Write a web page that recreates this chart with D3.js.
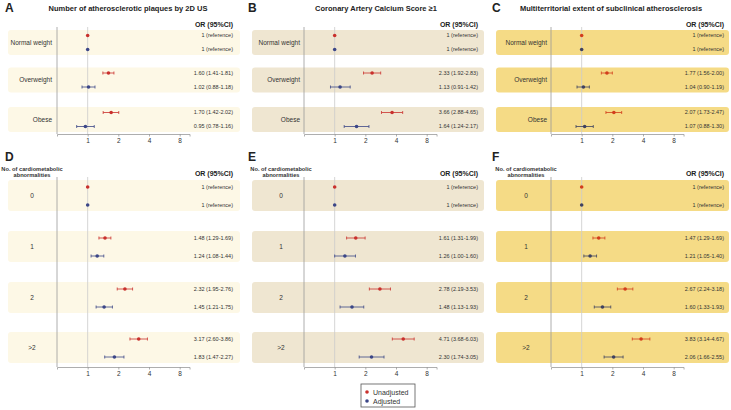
<!DOCTYPE html>
<meta charset="utf-8">
<style>
body { margin: 0; background: #fff; }
svg { font-family: "Liberation Sans", Arial, sans-serif; }
.tick text { fill: #333; font-size: 6.5px; }
.axis path, .axis line { stroke: #999; stroke-width: 0.8px; }
</style>
<body>
<svg width="731" height="410"></svg>
<script src="https://d3js.org/d3.v7.min.js"></script>
<script>
// ---- data ----
var weightGroups = ["Normal weight", "Overweight", "Obese"];
var cmGroups = ["0", "1", "2", ">2"];
var ticks = [1, 2, 4, 8];

// [OR, lower, upper]
var aUnadj = [[1, 1, 1], [1.60, 1.41, 1.81], [1.70, 1.42, 2.02]];
var aAdj   = [[1, 1, 1], [1.02, 0.88, 1.18], [0.95, 0.78, 1.16]];
var bUnadj = [[1, 1, 1], [2.33, 1.92, 2.83], [3.66, 2.88, 4.65]];
var bAdj   = [[1, 1, 1], [1.13, 0.91, 1.42], [1.64, 1.24, 2.17]];
var cUnadj = [[1, 1, 1], [1.77, 1.56, 2.00], [2.07, 1.73, 2.47]];
var cAdj   = [[1, 1, 1], [1.04, 0.90, 1.19], [1.07, 0.88, 1.30]];
var dUnadj = [[1, 1, 1], [1.48, 1.29, 1.69], [2.32, 1.95, 2.76], [3.17, 2.60, 3.86]];
var dAdj   = [[1, 1, 1], [1.24, 1.08, 1.44], [1.45, 1.21, 1.75], [1.83, 1.47, 2.27]];
var eUnadj = [[1, 1, 1], [1.61, 1.31, 1.99], [2.78, 2.19, 3.53], [4.71, 3.68, 6.03]];
var eAdj   = [[1, 1, 1], [1.26, 1.00, 1.60], [1.48, 1.13, 1.93], [2.30, 1.74, 3.05]];
var fUnadj = [[1, 1, 1], [1.47, 1.29, 1.69], [2.67, 2.24, 3.18], [3.83, 3.14, 4.67]];
var fAdj   = [[1, 1, 1], [1.21, 1.05, 1.40], [1.60, 1.33, 1.93], [2.06, 1.66, 2.55]];

var titles = ["Number of atherosclerotic plaques by 2D US",
              "Coronary Artery Calcium Score \u22651",
              "Multiterritorial extent of subclinical atherosclerosis"];
var letters = ["A", "B", "C", "D", "E", "F"];

// ---- layout ----
var svg = d3.select("svg");
var cols = [
  {x0: 57,  bandL: 8,   bandR: 240, orR: 233, labR: 52,  labC: 32,  titleC: 128, band: "#fdf8e6", red: "#c9302c", blue: "#3b4687"},
  {x0: 304, bandL: 252, bandR: 484, orR: 478, labR: 300, labC: 281, titleC: 376, band: "#efe6d1", red: "#c9302c", blue: "#3b4687"},
  {x0: 551, bandL: 496, bandR: 729, orR: 724, labR: 547, labC: 526, titleC: 611, band: "#f5db86", red: "#d23e1c", blue: "#3e4160"}
];
var rows = [
  {groups: weightGroups, bandTop: [30, 67.5, 107], bandH: 25, dR: 5.5, dB: 19.5, top: 27, axisY: 134, orY: 24, right: true},
  {groups: cmGroups, bandTop: [180, 231, 282, 332], bandH: 31, dR: 7, dB: 25, top: 177, axisY: 367, orY: 173, right: false}
];
var panels = [
  [aUnadj, aAdj], [bUnadj, bAdj], [cUnadj, cAdj],
  [dUnadj, dAdj], [eUnadj, eAdj], [fUnadj, fAdj]
];

function fmt(d) {
  if (d[0] === 1 && d[1] === 1) return "1 (reference)";
  return d[0].toFixed(2) + " (" + d[1].toFixed(2) + "-" + d[2].toFixed(2) + ")";
}

panels.forEach(function(p, i) {
  var c = cols[i % 3], r = rows[Math.floor(i / 3)];
  var g = svg.append("g");
  var x = d3.scaleLog().base(2).domain([0.5, 10]).range([c.x0, c.x0 + 30.67 * Math.log2(20)]);

  // panel letter
  g.append("text").attr("x", (i % 3 === 0 ? 5 : c.bandL - 4)).attr("y", r.right ? 12 : 161)
    .style("font-size", "12px").style("font-weight", "bold").attr("fill", "#222").text(letters[i]);

  if (r.right) {
    g.append("text").attr("x", c.titleC).attr("y", 10.5).attr("text-anchor", "middle")
      .style("font-size", "7.5px").style("font-weight", "bold").attr("fill", "#222").text(titles[i]);
  } else {
    g.append("text").attr("x", c.labC).attr("y", 171).attr("text-anchor", "middle")
      .style("font-size", "5.7px").style("font-weight", "bold").attr("fill", "#333").text("No. of cardiometabolic");
    g.append("text").attr("x", c.labC).attr("y", 177).attr("text-anchor", "middle")
      .style("font-size", "5.7px").style("font-weight", "bold").attr("fill", "#333").text("abnormalities");
  }

  g.append("text").attr("x", c.orR).attr("y", r.orY + 2.5).attr("text-anchor", "end")
    .style("font-size", "7px").style("font-weight", "bold").attr("fill", "#222").text("OR (95%CI)");

  // bands
  g.selectAll(".band").data(r.groups).enter().append("rect")
    .attr("x", c.bandL).attr("width", c.bandR - c.bandL)
    .attr("y", function(d, k) { return r.bandTop[k]; })
    .attr("height", r.bandH).attr("rx", 3).attr("fill", c.band);

  // group labels
  g.selectAll(".glab").data(r.groups).enter().append("text")
    .attr("x", r.right ? c.labR : c.labC)
    .attr("y", function(d, k) { return r.bandTop[k] + r.bandH / 2 + 2.3; })
    .attr("text-anchor", r.right ? "end" : "middle")
    .style("font-size", "6.5px").attr("fill", "#333").text(function(d) { return d; });

  // axis lines
  g.append("line").attr("x1", c.x0).attr("x2", c.x0).attr("y1", r.top).attr("y2", r.axisY)
    .attr("stroke", "#999").attr("stroke-width", 0.8);
  g.append("line").attr("x1", x(1)).attr("x2", x(1)).attr("y1", r.top).attr("y2", r.axisY)
    .attr("stroke", "#ccc").attr("stroke-width", 0.8);

  g.append("g").attr("class", "axis").attr("transform", "translate(0," + r.axisY + ")")
    .call(d3.axisBottom(x).tickValues(ticks).tickFormat(d3.format("d")).tickSize(2.5).tickPadding(2));

  // estimates
  [[p[0], r.dR, c.red], [p[1], r.dB, c.blue]].forEach(function(s) {
    var sg = g.append("g");
    var yy = function(d, k) { return r.bandTop[k] + s[1]; };
    s[0].forEach(function(d, k) {
      if (d[1] === d[2]) return;
      sg.append("line").attr("x1", x(d[1])).attr("x2", x(d[2]))
        .attr("y1", yy(d, k)).attr("y2", yy(d, k))
        .attr("stroke", s[2]).attr("stroke-width", 0.8);
      [d[1], d[2]].forEach(function(v) {
        sg.append("line").attr("x1", x(v)).attr("x2", x(v))
          .attr("y1", yy(d, k) - 1.5).attr("y2", yy(d, k) + 1.5)
          .attr("stroke", s[2]).attr("stroke-width", 0.8);
      });
    });
    sg.selectAll("circle").data(s[0]).enter().append("circle")
      .attr("cx", function(d) { return x(d[0]); }).attr("cy", yy)
      .attr("r", 1.8).attr("fill", s[2]);
    sg.selectAll("text").data(s[0]).enter().append("text")
      .attr("x", c.orR).attr("y", function(d, k) { return yy(d, k) + 1.9; })
      .attr("text-anchor", "end").style("font-size", "5.5px").attr("fill", "#333")
      .text(fmt);
  });
});

// legend
var leg = svg.append("g").attr("transform", "translate(361,384)");
leg.append("rect").attr("width", 54).attr("height", 23).attr("fill", "#fff")
  .attr("stroke", "#555").attr("stroke-width", 0.8);
[["Unadjusted", cols[1].red], ["Adjusted", cols[1].blue]].forEach(function(d, k) {
  leg.append("circle").attr("cx", 6).attr("cy", 8 + k * 9).attr("r", 1.8).attr("fill", d[1]);
  leg.append("text").attr("x", 12).attr("y", 10.5 + k * 9).style("font-size", "7px")
    .attr("fill", "#333").text(d[0]);
});
</script>
</body>
